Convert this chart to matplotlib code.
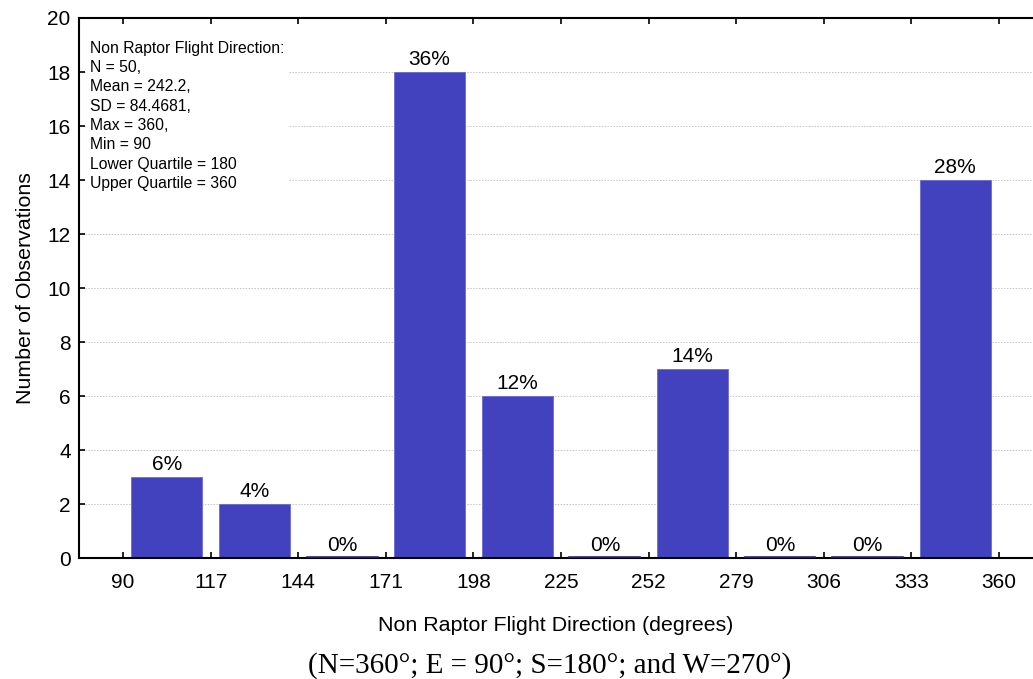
import numpy as np
import matplotlib.pyplot as plt

bin_edges = [90, 117, 144, 171, 198, 225, 252, 279, 306, 333, 360]
counts = [3, 2, 0, 18, 6, 0, 7, 0, 0, 14]
pct_labels = ['6%', '4%', '0%', '36%', '12%', '0%', '14%', '0%', '0%', '28%']
stats_text = ('Non Raptor Flight Direction:\nN = 50,\nMean = 242.2,\nSD = 84.4681,\n'
              'Max = 360,\nMin = 90\nLower Quartile = 180\nUpper Quartile = 360')

plt.rcParams['font.family'] = ['Liberation Sans', 'DejaVu Sans']

fig = plt.figure(figsize=(10.33, 6.79), dpi=100)
ax = fig.add_axes([0.0765, 0.178, 0.9235, 0.7955])

edges = np.array(bin_edges, dtype=float)
centers = (edges[:-1] + edges[1:]) / 2
width = (edges[1] - edges[0]) * 0.81

ax.set_axisbelow(True)
ax.yaxis.grid(True, color='#c4c4c4', linestyle=(0, (1.5, 1.5)), linewidth=0.7)

bars = ax.bar(centers, counts, width=width, color='#4242BE',
              edgecolor='#6a6ad6', linewidth=0.6, zorder=2)
# empty bins drawn as a thin dark line on the axis
for c, v in zip(centers, counts):
    if v == 0:
        ax.plot([c - width / 2, c + width / 2], [0.05, 0.05], color='#2a2a80',
                linewidth=1.2, zorder=3)
for c, v, lab in zip(centers, counts, pct_labels):
    ax.text(c, v + 0.12, lab, ha='center', va='bottom', fontsize=15)

ax.set_xlim(76.4, 370.5)
ax.set_ylim(0, 20)
ax.set_xticks(bin_edges)
ax.set_yticks(np.arange(0, 21, 2))
ax.tick_params(axis='both', direction='in', length=4, width=1.2,
               labelsize=15, top=True, right=False)
ax.tick_params(axis='x', pad=11)
ax.tick_params(axis='y', pad=6)

for s in ['left', 'bottom', 'top']:
    ax.spines[s].set_linewidth(1.5)
ax.spines['right'].set_visible(False)

ax.set_xlabel('Non Raptor Flight Direction (degrees)', fontsize=15.4, labelpad=17)
ax.set_ylabel('Number of Observations', fontsize=15.4, labelpad=9)

ax.text(0.012, 0.958, stats_text, transform=ax.transAxes, ha='left', va='top',
        fontsize=11.3, linespacing=1.36, zorder=5,
        bbox=dict(facecolor='white', edgecolor='none', pad=3))

fig.text(0.532, 0.0, '(N=360°; E = 90°; S=180°; and W=270°)', ha='center',
         va='bottom', fontsize=21, family=['Liberation Serif', 'DejaVu Serif'])

fig.savefig('out.png', dpi=100)
